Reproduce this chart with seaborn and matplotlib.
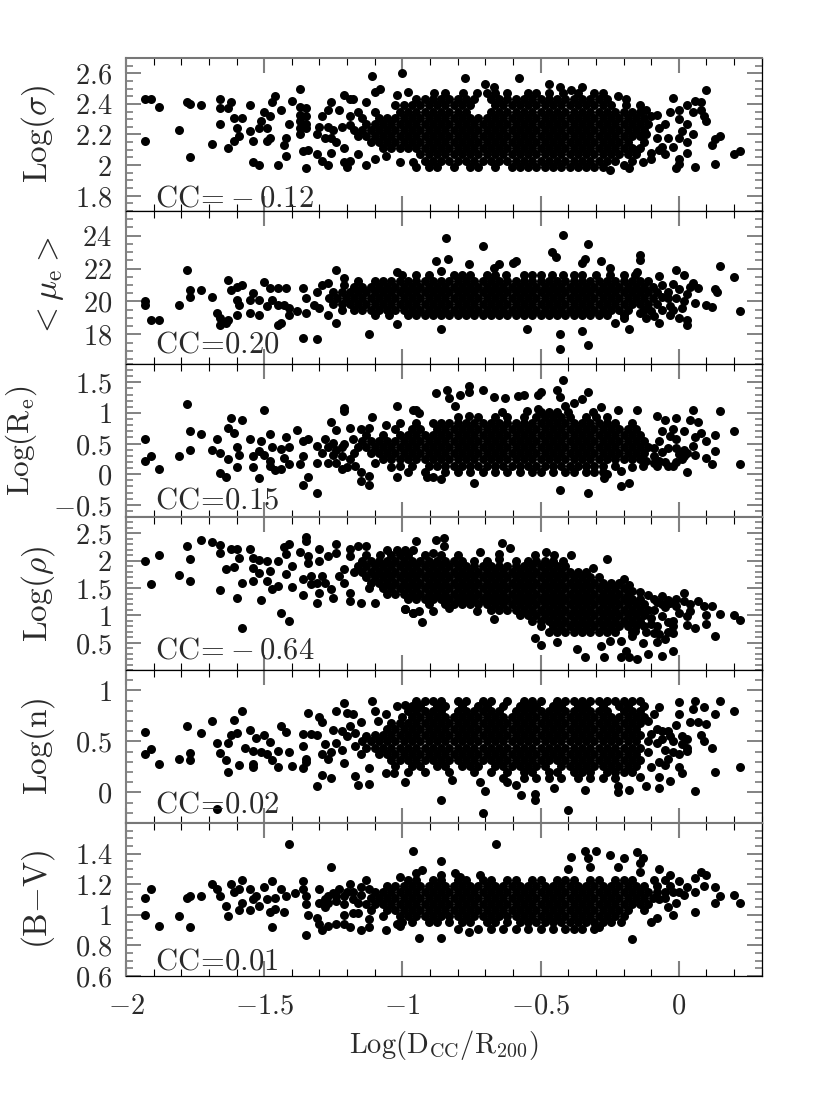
import pandas as pd
import seaborn as sns
from matplotlib import pyplot as plt
from matplotlib.ticker import MultipleLocator

# Values: single points as (x, y), crowded parts as y: [x, ...]
sigma_pts = [(-1.93,2.43),(-1.91,2.43),(-1.88,2.38),(-1.93,2.16),(-1.81,2.23),(-1.78,2.41),(-1.77,2.40),(-1.73,2.39),(-1.77,2.05),(-1.69,2.14),
 (-1.66,2.43),(-1.66,2.37),(-1.62,2.41),(-1.63,2.37),(-1.66,2.27),(-1.63,2.11),(-1.61,2.16),(-1.59,2.19),(-1.60,2.24),(-1.61,2.31),(-1.58,2.31),
 (-1.55,2.39),(-1.54,2.02),(-1.52,2.0),(-1.54,2.16),(-1.55,2.22),(-1.52,2.24),(-1.51,2.29),(-1.50,2.35),(-1.48,2.32),(-1.44,2.36),(-1.49,2.16),
 (-1.48,2.18),(-1.49,2.24),(-1.47,2.41),(-1.46,2.45),(-1.45,2.0),(-1.42,2.06),(-1.43,2.13),(-1.42,2.18),(-1.41,2.27),(-1.40,2.42),(-1.37,2.5),
 (-1.35,1.98),(-1.36,2.09),(-1.34,2.1),(-1.37,2.38),(-1.37,2.33),(-1.37,2.29),(-1.37,2.24),(-1.37,2.2),(-1.35,2.37),(-1.35,2.32),(-1.35,2.27),(-1.35,2.24),
 (-1.31,2.07),(-1.29,2.03),(-1.26,2.08),(-1.27,2.0),(-1.31,2.2),(-1.30,2.25),(-1.29,2.32),(-1.27,2.36),(-1.26,2.41),(-1.28,2.18),(-1.26,2.18),(-1.24,2.15),
 (-1.21,2.11),(-1.27,2.25),(-1.25,2.23),(-1.22,2.25),(-1.23,2.36),(-1.19,2.32),(-1.19,2.26),(-1.21,2.46),(-1.19,2.43),(-1.18,2.43),(-1.21,2.02),(-1.2,1.99),
 (-1.19,2.03),(-1.16,2.07),(-1.13,2),(-1.1,2.04),(-1.13,2.41),(-1.11,2.58),(-1.1,2.48),(-1.08,2.5),(-1.0,2.6),(-1.02,2.46),(-.98,2.48),(-1.06,2.06),
 (-1.01,2.02),(-.96,2.02),(-.95,1.99),(-.774,2.57),(-.578,2.57),(-.47,2.53),(-.35,2.51),(-.70,2.53),(-.67,2.51),(-.62,2.47),(-.43,2.51),(-.39,2.49),
 (-.22,2.45),(-.19,2.43),(-.02,2.44),(.10,2.49),(.06,2.42),(.08,2.41),(.03,2.39),(0,2.36),(-.03,2.35),(.05,2.35),(.08,2.36),(.10,2.29),(.09,2.32),(0,2.3),
 (.03,2.27),(-.07,2.24),(-.05,2.27),(-.08,2.33),(-.10,2.32),(.05,2.2),(.15,2.19),(.13,2.17),(.12,2.13),(.22,2.09),(.2,2.07),(.13,2.01),(.06,1.99),(0,2.04),
 (-.01,1.98),(0,2.01),(.03,2.15),(.03,2.08),(0,2.18),(-.04,2.18),(-.08,2.18),(-.06,2.12),(-.1,2.04),(-.05,2.07),(-.14,2.39),(-.12,2.2),(-.15,2.1),(-.18,1.98),(-.25,1.97),
 (-.12,2.36),(-.07,2.1),(-.02,2.12),(.01,2.22),(-.1,2.08),(-.13,2.02),(-.17,2.03),(-.2,2.0)]
sigma_rows = {
 1.99: [-.905,-.875,-.815,-.755,-.725,-.665,-.605,-.575,-.545,-.515,-.485,-.455,-.425,-.395,-.365,-.335,-.305,-.275],
 2.03: [-.92,-.89,-.86,-.83,-.8,-.77,-.74,-.71,-.68,-.65,-.62,-.59,-.56,-.53,-.5,-.47,-.44,-.41,-.38,-.35,-.32,-.29,-.26,-.23],
 2.07: [-.935,-.905,-.875,-.845,-.815,-.785,-.755,-.725,-.695,-.665,-.635,-.605,-.575,-.545,-.515,-.485,-.455,-.425,-.395,-.365,-.335,-.305,-.275,-.245,-.215,-.185,-.155],
 2.11: [-1.07,-1.04,-1.01,-.98,-.95,-.92,-.89,-.86,-.83,-.8,-.77,-.74,-.71,-.68,-.65,-.62,-.59,-.56,-.53,-.5,-.47,-.44,-.41,-.38,-.35,-.32,-.29,-.26,-.23,-.2,-.17,-.14],
 2.15: [-1.115,-1.085,-1.055,-1.025,-.995,-.965,-.935,-.905,-.875,-.845,-.815,-.785,-.755,-.725,-.695,-.665,-.635,-.605,-.575,-.545,-.515,-.485,-.455,-.425,-.395,-.365,-.335,-.305,-.275,-.245,-.215,-.185,-.125],
 2.19: [-1.16,-1.13,-1.1,-1.07,-1.04,-1.01,-.98,-.95,-.92,-.89,-.86,-.83,-.8,-.77,-.74,-.71,-.68,-.65,-.62,-.59,-.56,-.53,-.5,-.47,-.44,-.41,-.38,-.35,-.32,-.29,-.26,-.23,-.2,-.17,-.14],
 2.23: [-1.175,-1.145,-1.115,-1.085,-1.055,-1.025,-.995,-.965,-.935,-.905,-.875,-.845,-.815,-.785,-.755,-.725,-.695,-.665,-.635,-.605,-.575,-.545,-.515,-.485,-.455,-.425,-.395,-.365,-.335,-.305,-.275,-.245,-.215,-.185,-.155,-.125],
 2.27: [-1.13,-1.1,-1.07,-1.04,-1.01,-.98,-.95,-.92,-.89,-.86,-.83,-.8,-.77,-.74,-.71,-.68,-.65,-.62,-.59,-.56,-.53,-.5,-.47,-.44,-.41,-.38,-.35,-.32,-.29,-.26,-.23,-.2,-.17,-.14,-.11],
 2.31: [-1.145,-1.085,-1.055,-1.025,-.995,-.965,-.935,-.905,-.875,-.845,-.815,-.785,-.755,-.725,-.695,-.665,-.635,-.605,-.575,-.545,-.515,-.485,-.455,-.425,-.395,-.365,-.335,-.305,-.275,-.245,-.215,-.185,-.155,-.125],
 2.35: [-1.16,-1.1,-1.01,-.98,-.95,-.92,-.89,-.86,-.83,-.8,-.77,-.68,-.65,-.62,-.59,-.56,-.53,-.5,-.47,-.44,-.41,-.38,-.35,-.32,-.29,-.26,-.23,-.2,-.17,-.14],
 2.39: [-1.025,-.995,-.965,-.935,-.905,-.875,-.845,-.815,-.785,-.755,-.665,-.635,-.605,-.575,-.545,-.515,-.485,-.455,-.425,-.395,-.365,-.335,-.305,-.275,-.245,-.19],
 2.43: [-.95,-.92,-.89,-.86,-.83,-.8,-.77,-.74,-.68,-.65,-.62,-.59,-.56,-.53,-.5,-.47,-.44,-.41,-.38,-.35,-.32,-.29,-.26],
 2.47: [-.885,-.845,-.78,-.73,-.695,-.665,-.545,-.515,-.47,-.42,-.365,-.305,-.275],
}

mu_pts = [(-1.93,20),(-1.93,19.8),(-1.91,18.85),(-1.88,18.9),(-1.81,19.8),(-1.78,21.9),(-1.77,20.7),(-1.77,20.3),(-1.73,20.7),(-1.69,20.3),(-1.67,19.3),
 (-1.66,19),(-1.66,18.55),(-1.63,18.9),(-1.64,18.7),(-1.63,21.3),(-1.6,20.9),(-1.58,21),(-1.62,20.7),(-1.6,20.1),(-1.59,19.8),(-1.6,19.2),(-1.54,20.5),
 (-1.55,20.1),(-1.52,20.1),(-1.55,19.3),(-1.52,19.2),(-1.5,21.2),(-1.49,19.7),(-1.47,20.1),(-1.48,20.8),(-1.45,20.8),(-1.42,20.8),(-1.45,19.8),(-1.43,19.8),
 (-1.41,19.6),(-1.41,19.2),(-1.45,18.6),(-1.44,18.7),(-1.36,20.8),(-1.38,19.4),(-1.35,19.3),(-1.35,20.2),(-1.36,17.8),(-1.31,17.75),(-1.31,20.6),(-1.29,21),
 (-1.27,21.15),(-1.32,19.8),(-1.3,19.6),(-1.27,19.2),(-1.24,18.7),(-1.24,21.9),(-1.21,21.4),(-1.21,21),(-1.12,18.05),(-1.02,18.65),(-1.02,21.8),
 (-.844,23.85),(-.71,23.35),(-.42,24.05),(-.33,23.5),(-.834,22.6),(-.88,22.45),(-.86,21.85),(-.46,23),(-.445,22.7),(-.76,22.25),(-.59,22.45),(-.6,22.35),
 (-.65,22.3),(-.67,22.05),(-.34,22.6),(-.35,22.35),(-.28,22.45),(-.25,22.05),(-.14,22.8),(-.14,22.5),(-.15,21.8),(-.01,21.9),(.02,21.6),(.15,22.15),(.2,21.5),
 (.13,20.75),(.14,20.55),(.22,19.45),(.12,19.65),(.1,19.8),(.06,19.9),(.07,20.8),(.05,21.15),(.03,20.45),(-.02,21.05),(0,20.75),(-.07,21.55),(.03,18.6),(.03,18.9),
 (0,19),(-.03,19.2),(-.07,18.7),(-.18,18.3),(-.23,18.7),(-.2,19),(-.43,18.05),(-.35,18.2),(-.43,17.1),(-.33,17.35),(-.55,18.3),(-.86,18.3),
 (-.04,20.6),(-.06,21),(-.03,19.7),(-.06,19.5),(.01,19.6),(.02,20),(-.01,20.2),(.04,20.9),(-.09,19.1),(-.12,19),(-.04,20.2),(-.02,19.5),(-.06,20.3),(-.1,19.4),(-.14,19.3)]
mu_rows = {
 19.15: [-1.1,-1.05,-.98,-.95,-.92,-.89,-.86,-.83,-.8,-.77,-.74,-.71,-.68,-.65,-.62,-.59,-.56,-.53,-.5,-.47,-.44,-.41,-.38,-.35,-.32,-.29,-.26,-.2],
 19.5: [-1.22,-1.175,-1.145,-1.115,-1.085,-1.055,-1.025,-.995,-.965,-.935,-.905,-.875,-.845,-.815,-.785,-.755,-.725,-.695,-.665,-.635,-.605,-.575,-.545,-.515,-.485,-.455,-.425,-.395,-.365,-.335,-.305,-.275,-.245,-.215,-.185,-.125],
 19.85: [-1.25,-1.22,-1.19,-1.16,-1.13,-1.1,-1.07,-1.04,-1.01,-.98,-.95,-.92,-.89,-.86,-.83,-.8,-.77,-.74,-.71,-.68,-.65,-.62,-.59,-.56,-.53,-.5,-.47,-.44,-.41,-.38,-.35,-.32,-.29,-.26,-.23,-.2,-.17,-.14,-.11,-.08],
 20.2: [-1.265,-1.235,-1.205,-1.175,-1.145,-1.115,-1.085,-1.055,-1.025,-.995,-.965,-.935,-.905,-.875,-.845,-.815,-.785,-.755,-.725,-.695,-.665,-.635,-.605,-.575,-.545,-.515,-.485,-.455,-.425,-.395,-.365,-.335,-.305,-.275,-.245,-.215,-.185,-.155,-.125,-.095],
 20.55: [-1.25,-1.22,-1.19,-1.16,-1.13,-1.1,-1.07,-1.04,-1.01,-.98,-.95,-.92,-.89,-.86,-.83,-.8,-.77,-.74,-.71,-.68,-.65,-.62,-.59,-.56,-.53,-.5,-.47,-.44,-.41,-.38,-.35,-.32,-.29,-.26,-.23,-.2,-.17,-.14,-.11,-.08],
 20.9: [-1.175,-1.145,-1.115,-1.085,-1.055,-1.025,-.995,-.965,-.935,-.905,-.875,-.845,-.815,-.785,-.755,-.725,-.695,-.665,-.635,-.605,-.575,-.545,-.515,-.485,-.455,-.425,-.395,-.365,-.335,-.305,-.275,-.245,-.215,-.185,-.155,-.125,-.095],
 21.25: [-1.16,-1.1,-1.07,-1.04,-1.01,-.98,-.95,-.92,-.89,-.86,-.83,-.8,-.77,-.74,-.71,-.68,-.65,-.62,-.59,-.56,-.53,-.5,-.47,-.44,-.41,-.38,-.35,-.32,-.29,-.26,-.23,-.2,-.17,-.14,-.11],
 21.6: [-1.0,-.95,-.905,-.815,-.785,-.755,-.695,-.665,-.625,-.56,-.53,-.5,-.46,-.42,-.38,-.35,-.3,-.25,-.2,-.16],
}

re_pts = [(-1.93,.58),(-1.93,.22),(-1.91,.3),(-1.88,.09),(-1.81,.3),(-1.78,1.15),(-1.77,.71),(-1.73,.66),(-1.77,.39),(-1.69,.39),(-1.66,.34),(-1.67,.58),(-1.66,.02),
 (-1.64,-.04),(-1.62,.92),(-1.58,.89),(-1.63,.75),(-1.61,.68),(-1.6,.45),(-1.59,.32),(-1.63,.24),(-1.6,.12),(-1.55,.58),(-1.51,.55),(-1.5,1.05),(-1.48,.66),
 (-1.52,-.06),(-1.54,.3),(-1.54,.12),(-1.52,.38),(-1.5,.32),(-1.48,.22),(-1.48,.14),(-1.46,.07),(-1.44,.09),(-1.41,.16),(-1.47,.45),(-1.44,.41),(-1.43,.27),
 (-1.42,.61),(-1.41,.45),(-1.38,.72),(-1.36,.54),(-1.34,.57),(-1.36,.3),(-1.37,.16),(-1.34,-.04),(-1.36,-.18),(-1.31,-.31),(-1.31,.46),(-1.31,.19),(-1.28,.57),
 (-1.29,.35),(-1.27,.19),(-1.25,.51),(-1.22,.08),(-1.25,.32),(-1.26,.86),(-1.24,.72),(-1.19,.76),(-1.21,1.08),(-1.21,1.04),(-1.11,.93),(-1.06,.81),(-1.15,.73),
 (-1.12,.76),(-1.02,1.11),(-.95,1.05),(-1.15,-.11),(-1.12,-.18),(-1.15,.03),(-1.12,-.03),(-1.02,-.04),(-1.04,.11),(-1.1,.19),
 (-.42,1.54),(-.84,1.38),(-.88,1.32),(-.83,1.24),(-.81,1.11),(-.79,1.3),(-.76,1.44),(-.76,1.34),(-.71,1.38),(-.67,1.26),(-.63,1.24),(-.58,1.27),(-.56,1.29),
 (-.51,1.3),(-.5,1.35),(-.44,1.38),(-.43,1.26),(-.33,1.35),(-.41,1.11),(-.38,1.16),(-.35,1.22),(-.96,1.05),(-.94,1),(-.76,.95),(-.55,1.03),(-.51,1.06),
 (-.22,1.05),(-.15,1.05),(-.28,1.1),(-.08,.95),(-.05,.89),(-.01,.92),(.05,1.05),(.15,1.04),(.04,.89),(.07,.85),(.2,.7),(.13,.64),(.08,.68),(.06,.6),(.1,.54),
 (.13,.38),(.1,.26),(.12,.16),(.22,.16),(.06,.31),(.05,.46),(.03,.04),(-.02,.73),(-.01,.57),(.02,.7),(-.08,.14),(-.02,.14),(-.04,.43),(-.09,.3),(-.17,.12),(-.21,.05),
 (-.26,0),(-.27,-.06),(-.21,-.19),(-.18,-.15),(-.33,-.31),(-.43,-.26),(-.74,-.15),(-.86,-.08),(-.89,-.04),(-.91,-.05),(-.05,.2),(.01,.25),(.02,.4),(-.06,.7),(-.07,.55),(0,.33),
 (-.04,.14),(-.07,.22),(-.01,.2),(.02,.3),(-.06,.36),(-.09,.42),(-.09,.18),(-.12,.22),(-.01,.42),(.03,.34),(-.03,.62),
 (-1.27,.45),(-1.24,.4),(-1.22,.3),(-1.21,.5),(-1.19,.25),(-1.18,.58),(-1.24,.18),(-1.2,.12),(-1.17,.14)]
re_rows = {
 .04: [-.98,-.92,-.845,-.8,-.755,-.71,-.665,-.62,-.575,-.53,-.5,-.455,-.41,-.38,-.335,-.305,-.275],
 .14: [-1.01,-.965,-.905,-.875,-.845,-.815,-.785,-.755,-.725,-.695,-.665,-.635,-.605,-.575,-.545,-.515,-.485,-.455,-.425,-.395,-.365,-.335,-.305,-.275,-.23,-.13],
 .24: [-1.07,-1.04,-1.01,-.98,-.95,-.92,-.89,-.86,-.83,-.8,-.77,-.74,-.71,-.68,-.65,-.62,-.59,-.56,-.53,-.5,-.47,-.44,-.41,-.38,-.35,-.32,-.29,-.26,-.23,-.2,-.17,-.14],
 .34: [-1.175,-1.115,-1.085,-1.055,-1.025,-.995,-.965,-.935,-.905,-.875,-.845,-.815,-.785,-.755,-.725,-.695,-.665,-.635,-.605,-.575,-.545,-.515,-.485,-.455,-.425,-.395,-.365,-.335,-.305,-.275,-.245,-.215,-.185,-.155,-.125],
 .44: [-1.22,-1.16,-1.13,-1.1,-1.07,-1.04,-1.01,-.98,-.95,-.92,-.89,-.86,-.83,-.8,-.77,-.74,-.71,-.68,-.65,-.62,-.59,-.56,-.53,-.5,-.47,-.44,-.41,-.38,-.35,-.32,-.29,-.26,-.23,-.2,-.17,-.14,-.11],
 .54: [-1.145,-1.115,-1.085,-1.055,-1.025,-.995,-.965,-.935,-.905,-.875,-.845,-.815,-.785,-.755,-.725,-.695,-.665,-.635,-.605,-.575,-.545,-.515,-.485,-.455,-.425,-.395,-.365,-.335,-.305,-.275,-.245,-.215,-.185,-.155,-.125],
 .64: [-1.13,-1.07,-1.01,-.98,-.95,-.92,-.89,-.86,-.83,-.8,-.77,-.74,-.71,-.68,-.65,-.62,-.59,-.56,-.53,-.5,-.47,-.44,-.41,-.38,-.35,-.32,-.29,-.26,-.23,-.2,-.17,-.14],
 .74: [-1.025,-.965,-.935,-.875,-.845,-.815,-.785,-.755,-.725,-.695,-.665,-.635,-.605,-.575,-.545,-.515,-.485,-.455,-.425,-.395,-.365,-.335,-.305,-.275,-.245,-.215,-.185,-.155],
 .84: [-1.01,-.95,-.89,-.86,-.83,-.8,-.77,-.74,-.71,-.68,-.65,-.62,-.59,-.56,-.53,-.5,-.47,-.44,-.41,-.38,-.35,-.32,-.29,-.26,-.23,-.17],
 .94: [-.8,-.725,-.665,-.62,-.56,-.515,-.485,-.455,-.425,-.395,-.335,-.3,-.26],
 1.02: [-.64,-.5,-.47,-.44,-.4,-.31],
}

rho_pts = [(-1.93,2),(-1.91,1.58),(-1.88,2.1),(-1.81,1.74),(-1.78,2.27),(-1.77,2.04),(-1.77,1.62),(-1.73,2.38),(-1.69,2.34),(-1.66,2.28),(-1.66,2.15),(-1.66,1.46),
 (-1.64,1.85),(-1.61,1.89),(-1.62,2.21),(-1.6,2.21),(-1.59,2.05),(-1.6,1.31),(-1.58,1.59),(-1.58,.77),(-1.55,2.22),(-1.54,2.05),(-1.52,2.02),(-1.49,2),(-1.45,2),
 (-1.54,1.87),(-1.52,1.78),(-1.54,1.63),(-1.51,1.28),(-1.49,1.63),(-1.47,1.48),(-1.45,1.54),(-1.4,1.52),(-1.44,1.04),(-1.41,.89),(-1.48,1.81),(-1.42,1.75),(-1.4,1.9),
 (-1.43,2.26),(-1.41,2.3),(-1.42,2.12),(-1.35,2.44),(-1.35,2.36),(-1.37,2.16),(-1.34,2.09),(-1.34,1.96),(-1.36,1.66),(-1.33,1.72),(-1.33,1.57),(-1.36,1.38),(-1.31,1.23),
 (-1.3,1.41),(-1.31,1.6),(-1.29,1.72),(-1.28,1.6),(-1.26,1.48),(-1.25,1.31),(-1.3,2.21),(-1.3,2),(-1.27,2.09),(-1.24,2.3),(-1.24,2.15),(-1.21,1.84),(-1.23,1.72),
 (-1.21,1.6),(-1.19,1.41),(-1.19,1.26),(-1.15,1.23),(-1.19,2.21),(-1.19,2.09),(-1.16,2.27),(-1.13,2.27),(-1.1,1.22),(-.99,1.11),(-.96,1.05),(-1.12,1.5),
 (-.64,2.33),(-.61,2.23),(-.65,2.13),(-.65,2.04),(-.95,2.36),(-.88,2.37),(-.85,2.42),(-.85,2.27),(-.89,2.15),(-.72,2.16),(-.52,2.1),(-.48,2.16),(-.45,2.1),(-.39,2.11),
 (-.26,2.04),(-.31,1.87),(-.2,1.66),(-.17,1.45),(-.11,1.38),(-.06,1.35),(.02,1.41),(-.06,.99),(-.1,.96),(-.03,1.23),(.02,1.26),(.07,1.26),(.09,1.17),(.12,1.17),
 (.15,1.02),(.1,1.01),(.2,1),(.22,.91),(.1,.84),(.13,.63),(.06,.77),(.03,.82),(-.02,.8),(-.04,.87),(-.08,.8),(.03,.99),(0,1.05),(.04,1.08),(-.02,.34),(-.06,.26),
 (-.15,.2),(-.19,.35),(-.21,.23),(-.18,.23),(-.11,.29),(-.27,.24),(-.34,.23),(-.37,.38),(-.44,.51),(-.5,.46),(-.52,.59),(-.28,.44),(-.25,.53),(-.21,.53),(-.17,.62),
 (-.13,.5),(-.08,.51),(-.05,.56),(-.02,.68),(-.99,1.11),(-.96,1.05),(-.94,1.08),(-.93,.88),(-.73,1.08),(-.67,.93),(-.89,1.08),(-.83,1.14),(-.08,1.25),(-.05,1.15),(-.09,1.1),
 (-.12,.7),(-.16,.72),(-.09,.68),(-.04,.7),(-.01,1.18),(-.09,1.3),(-.04,1.28),(-.01,1.3),(.04,1.2),(-.06,1.2),(-.02,.9),(-.18,1.56),(-.14,1.42),(-.1,.85),(-.07,.66)]
rho_rows = {
 .7: [-.47,-.44,-.41,-.38,-.35,-.32,-.29,-.26,-.23,-.17],
 .8: [-.5,-.455,-.425,-.395,-.365,-.335,-.305,-.275,-.245,-.215,-.185,-.155,-.125],
 .9: [-.53,-.5,-.47,-.44,-.41,-.38,-.35,-.32,-.29,-.26,-.23,-.2,-.17,-.14],
 1.0: [-.575,-.545,-.515,-.485,-.455,-.425,-.395,-.365,-.335,-.305,-.275,-.245,-.215,-.185,-.155,-.125],
 1.1: [-.68,-.65,-.62,-.59,-.56,-.53,-.5,-.47,-.44,-.41,-.38,-.35,-.32,-.29,-.26,-.23,-.2,-.17,-.14,-.11],
 1.2: [-.905,-.845,-.815,-.785,-.755,-.725,-.695,-.665,-.635,-.605,-.575,-.545,-.515,-.485,-.455,-.425,-.395,-.365,-.335,-.305,-.275,-.245,-.215,-.185,-.155,-.125],
 1.3: [-.98,-.95,-.92,-.89,-.86,-.83,-.8,-.77,-.74,-.71,-.68,-.65,-.62,-.59,-.56,-.53,-.5,-.47,-.44,-.41,-.38,-.35,-.32,-.29,-.26,-.23,-.2,-.17,-.14],
 1.4: [-1.055,-1.025,-.995,-.965,-.935,-.905,-.875,-.845,-.815,-.785,-.755,-.725,-.695,-.665,-.635,-.605,-.575,-.545,-.515,-.485,-.455,-.425,-.395,-.365,-.335,-.305,-.275,-.245,-.215,-.185],
 1.5: [-1.07,-1.04,-1.01,-.98,-.95,-.92,-.89,-.86,-.83,-.8,-.77,-.74,-.71,-.68,-.65,-.62,-.59,-.56,-.53,-.5,-.47,-.44,-.41,-.38,-.35,-.32,-.29,-.26,-.23,-.2],
 1.6: [-1.115,-1.085,-1.055,-1.025,-.995,-.965,-.935,-.905,-.875,-.845,-.815,-.785,-.755,-.725,-.695,-.665,-.635,-.605,-.575,-.545,-.515,-.485,-.455,-.425,-.395,-.365,-.335,-.305,-.275,-.245,-.215],
 1.7: [-1.13,-1.1,-1.07,-1.04,-1.01,-.98,-.95,-.92,-.89,-.86,-.83,-.8,-.77,-.74,-.71,-.68,-.65,-.62,-.59,-.56,-.53,-.5,-.47,-.44,-.41,-.38,-.35,-.32,-.29],
 1.8: [-1.175,-1.145,-1.115,-1.085,-1.055,-1.025,-.995,-.965,-.935,-.905,-.875,-.845,-.815,-.785,-.755,-.725,-.695,-.665,-.635,-.605,-.575,-.545,-.515,-.485,-.455,-.425,-.395,-.365,-.335],
 1.9: [-1.16,-1.13,-1.1,-1.07,-1.04,-1.01,-.98,-.95,-.92,-.89,-.86,-.83,-.8,-.77,-.74,-.71,-.68,-.65,-.62,-.59,-.56,-.53,-.5,-.47,-.44,-.41],
 2.0: [-1.145,-1.115,-1.085,-1.055,-1.025,-.995,-.965,-.935,-.905,-.875,-.845,-.815,-.785,-.74,-.695,-.59,-.545,-.515,-.485,-.455,-.42],
 2.1: [-1.13,-1.08,-1.04,-1.01,-.98,-.92,-.86,-.8],
 2.2: [-1.055,-1.02,-.99,-.96],
}

n_pts = [(-1.93,.59),(-1.93,.38),(-1.91,.43),(-1.88,.28),(-1.81,.33),(-1.77,.39),(-1.77,.32),(-1.78,.65),(-1.73,.58),(-1.69,.7),(-1.67,.48),(-1.66,.39),(-1.64,.32),
 (-1.63,.2),(-1.63,.48),(-1.61,.71),(-1.58,.8),(-1.62,.56),(-1.6,.58),(-1.59,.27),(-1.54,.28),(-1.54,.25),(-1.57,.44),(-1.55,.61),(-1.53,.53),(-1.5,.56),(-1.48,.49),
 (-1.54,.41),(-1.51,.4),(-1.49,.38),(-1.47,.32),(-1.45,.41),(-1.45,.25),(-1.4,.26),(-1.41,.4),(-1.44,.65),(-1.42,.59),(-1.34,.78),(-1.3,.74),(-1.29,.69),(-1.36,.57),
 (-1.33,.57),(-1.36,.45),(-1.35,.33),(-1.36,.24),(-1.35,.3),(-1.31,.06),(-1.29,.17),(-1.26,.14),(-1.21,.88),(-1.24,.8),(-1.2,.78),(-1.18,.77),(-1.11,.9),(-1.1,.8),
 (-1.21,.29),(-1.17,.16),(-1.16,.07),(-1.12,.08),(-1.12,.24),(-1.67,-.16),(-1.06,.19),(-.99,.1),(-1.03,.19),(-1.25,.61),(-1.19,.65),(-1.15,.69),(-1.09,.7),(-1.06,.77),
 (-1.02,.85),(-.99,.86),(-.95,.9),(-1.31,.56),(-1.28,.47),(-1.26,.4),(-1.29,.38),(-1.27,.33),(-1.24,.48),(-1.22,.42),(-1.2,.55),(-1.22,.6),(-1.17,.45),(-1.15,.38),(-1.17,.58),(-1.13,.55),
 (.15,.9),(.2,.8),(.13,.77),(.06,.9),(.05,.82),(.09,.84),(0,.89),(0,.77),(-.07,.84),(-.09,.77),(.04,.69),(.07,.69),(.1,.67),(-.01,.66),(.08,.56),(.09,.5),(.12,.44),(.22,.25),
 (.13,.2),(.06,.01),(-.07,.04),(-.07,.15),(-.03,.11),(.01,.19),(0,.25),(-.05,.27),(-.07,.3),(.03,.44),(.03,.41),(0,.38),(-.04,.33),(-.06,.6),(-.1,.57),(-.11,.7),(-.12,.06),
 (-.14,.15),(-.22,.06),(-.22,0),(-.18,.02),(-.4,-.17),(-.71,-.2),(-.86,-.07),(-.7,.01),(-.57,-.03),(-.52,-.02),(-.52,-.07),(-.45,.04),(-.34,.02),(-.59,.07),(-.62,.1),
 (-.82,.12),(-.72,.1),(-.02,.5),(.01,.55),(.03,.52),(-.04,.6),(-.08,.48),(-.05,.42),(-.1,.25),(-.08,.62),(-.03,.55),(.01,.47),(-.02,.4),(-.11,.4),(-.11,.5),(-.06,.52)]
n_rows = {
 .14: [-.635,-.56,-.515,-.47,-.425,-.365,-.32,-.275,-.23],
 .2: [-.98,-.92,-.83,-.74,-.68,-.62,-.56,-.53,-.47,-.44,-.38,-.35,-.32,-.26,-.23,-.2,-.17],
 .26: [-1.025,-.965,-.935,-.875,-.845,-.785,-.755,-.725,-.665,-.635,-.605,-.575,-.545,-.515,-.485,-.425,-.395,-.365,-.335,-.305,-.275,-.245,-.215,-.185,-.155],
 .32: [-1.04,-1.01,-.98,-.95,-.92,-.89,-.86,-.83,-.8,-.77,-.74,-.71,-.68,-.65,-.62,-.59,-.56,-.53,-.5,-.47,-.44,-.41,-.38,-.35,-.32,-.29,-.26,-.23,-.2,-.17,-.14],
 .38: [-1.085,-1.055,-1.025,-.995,-.965,-.935,-.905,-.875,-.845,-.815,-.785,-.755,-.725,-.695,-.665,-.635,-.605,-.575,-.545,-.515,-.485,-.455,-.425,-.395,-.365,-.335,-.305,-.275,-.245,-.215,-.185,-.155],
 .44: [-1.13,-1.1,-1.07,-1.04,-1.01,-.98,-.95,-.92,-.89,-.86,-.83,-.8,-.77,-.74,-.71,-.68,-.65,-.62,-.59,-.56,-.53,-.5,-.47,-.44,-.41,-.38,-.35,-.32,-.29,-.26,-.23,-.2,-.17,-.14],
 .5: [-1.145,-1.115,-1.085,-1.055,-1.025,-.995,-.965,-.935,-.905,-.875,-.845,-.815,-.785,-.755,-.725,-.695,-.665,-.635,-.605,-.575,-.545,-.515,-.485,-.455,-.425,-.395,-.365,-.335,-.305,-.275,-.245,-.215,-.185,-.155],
 .56: [-1.1,-1.07,-1.04,-1.01,-.98,-.95,-.92,-.89,-.86,-.83,-.8,-.77,-.74,-.71,-.68,-.65,-.62,-.59,-.56,-.53,-.5,-.47,-.44,-.41,-.38,-.35,-.32,-.29,-.26,-.23,-.2,-.17,-.14],
 .62: [-1.055,-1.025,-.995,-.965,-.935,-.905,-.875,-.845,-.815,-.785,-.755,-.725,-.695,-.665,-.635,-.605,-.575,-.545,-.515,-.485,-.455,-.425,-.395,-.365,-.335,-.305,-.275,-.245,-.215,-.185,-.155],
 .68: [-1.04,-1.01,-.98,-.95,-.92,-.89,-.86,-.83,-.8,-.77,-.74,-.71,-.68,-.65,-.62,-.59,-.56,-.53,-.5,-.47,-.44,-.41,-.38,-.35,-.32,-.29,-.26,-.23,-.2,-.17,-.14],
 .74: [-1.0,-.965,-.935,-.905,-.875,-.845,-.815,-.785,-.755,-.725,-.695,-.665,-.635,-.605,-.575,-.545,-.515,-.485,-.455,-.425,-.395,-.365,-.335,-.305,-.275,-.245,-.215,-.185,-.155,-.125],
 .8: [-.98,-.95,-.92,-.89,-.86,-.8,-.77,-.74,-.71,-.68,-.65,-.59,-.56,-.53,-.5,-.47,-.44,-.41,-.38,-.35,-.32,-.29,-.26,-.2,-.17,-.14],
 .85: [-.965,-.935,-.875,-.845,-.785,-.725,-.695,-.635,-.575,-.545,-.515,-.455,-.425,-.365,-.335,-.275,-.215,-.185,-.125],
 .9: [-.92,-.89,-.86,-.8,-.77,-.71,-.68,-.62,-.56,-.53,-.5,-.44,-.41,-.38,-.35,-.32,-.29,-.26,-.23,-.2,-.17,-.14],
}

bv_pts = [(-1.93,1),(-1.93,1.11),(-1.91,1.17),(-1.88,.93),(-1.81,.99),(-1.77,.92),(-1.78,1.11),(-1.77,1.12),(-1.73,1.12),(-1.69,1.2),(-1.67,1.17),(-1.66,1.12),(-1.64,1.06),
 (-1.63,.99),(-1.62,1.2),(-1.61,1.15),(-1.59,1.17),(-1.58,1.23),(-1.58,1.08),(-1.59,1.03),(-1.55,1.03),(-1.55,1.17),(-1.53,1.12),(-1.54,1.1),(-1.5,1.18),(-1.47,1.22),(-1.49,1.1),
 (-1.52,1.06),(-1.47,.92),(-1.44,1.17),(-1.46,1.11),(-1.42,1.12),(-1.39,1.14),(-1.48,1.02),(-1.46,1.04),(-1.43,1.02),(-1.41,1.46),(-1.36,1.22),(-1.36,1.17),(-1.35,1.12),(-1.35,1.07),
 (-1.35,.87),(-1.34,1),(-1.31,.98),(-1.3,.94),(-1.3,1.17),(-1.3,1.08),(-1.28,1.05),(-1.26,1.31),(-1.29,.9),(-1.27,.93),(-1.24,.94),(-1.21,.94),(-1.27,1.12),(-1.25,1.14),(-1.23,1.17),
 (-1.19,1.2),(-1.21,1.12),(-1.18,1.15),(-1.21,1),(-1.18,1.01),(-1.16,1.01),(-1.19,.92),(-1.15,.9),(-1.12,.92),(-1.12,.97),(-1.13,1.23),(-1.06,.9),(-1.02,.94),(-1.01,.93),(-.96,1.42),
 (-.94,.85),(-1.01,1.25),(-.95,1.27),(-1.27,1.08),(-1.24,1.09),(-1.21,1.07),(-1.18,1.1),(-1.15,1.13),(-1.15,1.18),(-1.12,1.17),(-1.28,1.1),(-1.24,1.12),(-1.2,1.15),(-1.16,1.08),
 (-.66,1.46),(-.86,1.35),(-.86,1.26),(-.81,1.27),(-.79,1.25),(-.72,1.26),(-.86,.85),(-.76,.89),(-.93,1.29),(-.39,1.38),(-.34,1.42),(-.3,1.42),(-.25,1.39),(-.2,1.37),(-.15,1.41),
 (-.13,1.37),(-.14,1.34),(-.07,1.3),(-.33,1.37),(-.32,1.31),(-.4,1.3),(-.22,1.31),(-.14,1.28),(-.03,1.26),(0,1.22),(.08,1.28),(.1,1.26),(.06,1.24),(.09,1.19),(.13,1.18),(.15,1.12),
 (.13,1.08),(.06,1.15),(.2,1.13),(.22,1.08),(.06,1.02),(-.02,1),(-.08,.98),(-.1,.95),(-.17,.84),(-.29,.92),(-.21,.95),(.02,1.13),(.03,1.18),(-.01,1.08),(-.04,1.05),(-.07,1.1),(.0,1.15)]
bv_rows = {
 .91: [-.8,-.725,-.68,-.635,-.59,-.545,-.5,-.455,-.41,-.38,-.35,-.305],
 .95: [-1.0,-.965,-.905,-.875,-.83,-.785,-.755,-.695,-.665,-.62,-.575,-.545,-.515,-.485,-.455,-.425,-.395,-.365,-.335,-.305,-.275,-.245],
 .99: [-1.07,-1.01,-.98,-.95,-.92,-.89,-.86,-.83,-.8,-.77,-.74,-.71,-.68,-.65,-.62,-.59,-.56,-.53,-.5,-.47,-.44,-.41,-.38,-.35,-.32,-.29,-.26,-.23,-.2],
 1.03: [-1.115,-1.055,-1.025,-.995,-.965,-.935,-.905,-.875,-.845,-.815,-.785,-.755,-.725,-.695,-.665,-.635,-.605,-.575,-.545,-.515,-.485,-.455,-.425,-.395,-.365,-.335,-.305,-.275,-.245,-.215,-.185,-.125],
 1.07: [-1.13,-1.1,-1.07,-1.04,-1.01,-.98,-.95,-.92,-.89,-.86,-.83,-.8,-.77,-.74,-.71,-.68,-.65,-.62,-.59,-.56,-.53,-.5,-.47,-.44,-.41,-.38,-.35,-.32,-.29,-.26,-.23,-.2,-.17,-.14,-.11],
 1.11: [-1.115,-1.085,-1.055,-1.025,-.995,-.965,-.935,-.905,-.875,-.845,-.815,-.785,-.755,-.725,-.695,-.665,-.635,-.605,-.575,-.545,-.515,-.485,-.455,-.425,-.395,-.365,-.335,-.305,-.275,-.245,-.215,-.185,-.155,-.125,-.095,-.05],
 1.15: [-1.1,-1.07,-1.04,-1.01,-.98,-.95,-.92,-.89,-.86,-.83,-.8,-.77,-.74,-.71,-.68,-.65,-.62,-.59,-.56,-.53,-.5,-.47,-.44,-.41,-.38,-.35,-.32,-.29,-.26,-.23,-.2,-.17,-.14,-.11,-.08,-.05,-.02],
 1.19: [-1.055,-1.025,-.995,-.965,-.935,-.905,-.875,-.845,-.815,-.785,-.755,-.725,-.695,-.665,-.635,-.605,-.575,-.545,-.515,-.485,-.455,-.425,-.395,-.365,-.335,-.305,-.275,-.245,-.215,-.185,-.155,-.125,-.08,-.03],
 1.23: [-.98,-.95,-.89,-.86,-.8,-.77,-.71,-.68,-.62,-.59,-.53,-.5,-.44,-.41,-.38,-.32,-.29,-.23,-.2,-.17,-.09,-.05],
}


def points_frame(pts, rows):
    # singles plus the crowded rows, in one table for seaborn
    xs = [p[0] for p in pts]
    ys = [p[1] for p in pts]
    for y, row in rows.items():
        xs += row
        ys += [y] * len(row)
    return pd.DataFrame({"logd": xs, "val": ys})


panels = [
    (sigma_pts, sigma_rows, r"$\mathrm{Log}(\sigma)$", (1.7, 2.7), [1.8, 2, 2.2, 2.4, 2.6], ["1.8", "2", "2.2", "2.4", "2.6"], .05, r"$\mathrm{CC}\!=\!-0.12$", .028, 57, "#777777"),
    (mu_pts, mu_rows, r"${<}\mu_{\mathrm{e}}{>}$", (16.2, 25.5), [18, 20, 22, 24], ["18", "20", "22", "24"], .5, r"$\mathrm{CC}\!=\!0.20$", .072, 66, "black"),
    (re_pts, re_rows, r"$\mathrm{Log}(\mathrm{R_e})$", (-.7, 1.8), [-.5, 0, .5, 1, 1.5], ["-0.5", "0", "0.5", "1", "1.5"], .1, r"$\mathrm{CC}\!=\!0.15$", .058, 39, "black"),
    (rho_pts, rho_rows, r"$\mathrm{Log}(\rho)$", (0, 2.8), [.5, 1, 1.5, 2, 2.5], ["0.5", "1", "1.5", "2", "2.5"], .1, r"$\mathrm{CC}\!=\!-0.64$", .072, 57, "#777777"),
    (n_pts, n_rows, r"$\mathrm{Log(n)}$", (-.3, 1.2), [0, .5, 1], ["0", "0.5", "1"], .1, r"$\mathrm{CC}\!=\!0.02$", .071, 57, "black"),
    (bv_pts, bv_rows, r"$\mathrm{(B{-}V)}$", (.6, 1.6), [.6, .8, 1, 1.2, 1.4], ["0.6", "0.8", "1", "1.2", "1.4"], .05, r"$\mathrm{CC}\!=\!0.01$", .04, 57, "#777777"),
]

sns.set_theme(style="ticks")
plt.rcParams["mathtext.fontset"] = "cm"
plt.rcParams["font.family"] = ["DejaVu Serif"]
TXT = "#2a2a2a"

fig, axes = plt.subplots(6, 1, figsize=(8.3, 11.06), dpi=100, sharex=True)
fig.subplots_adjust(left=126 / 830, right=761.7 / 830, top=1 - 58 / 1106, bottom=1 - 976 / 1106, hspace=0)

for ax, p in zip(axes, panels):
    pts, rows, label, ylim, yt, ytl, minor, cc, cc_y, lab_x, top_col = p
    df = points_frame(pts, rows)
    sns.scatterplot(data=df, x="logd", y="val", ax=ax, color="black", s=42, linewidth=0, legend=False)

    ax.set_xlim(-2, .3)
    ax.set_ylim(*ylim)
    ax.set_yticks(yt, [f"${t}$" for t in ytl], fontsize=20.5, color=TXT)
    ax.yaxis.set_minor_locator(MultipleLocator(minor))
    ax.xaxis.set_major_locator(MultipleLocator(.5))
    ax.xaxis.set_minor_locator(MultipleLocator(.1))
    ax.tick_params(which="both", direction="in", top=True, right=True)
    ax.tick_params(axis="x", which="major", length=10.5, width=1.5, color="#808080")
    ax.tick_params(axis="x", which="minor", length=5.2, width=.8, color="black")
    ax.tick_params(axis="y", which="major", length=10.5, width=1.1, color="#606060", pad=10)
    ax.tick_params(axis="y", which="minor", length=5.2, width=1.1, color="#707070")

    ax.spines["left"].set(color="#808080", linewidth=1.5)
    ax.spines["right"].set(color="black", linewidth=.9)
    ax.spines["top"].set(color=top_col, linewidth=1.5 if top_col != "black" else .9)
    ax.spines["bottom"].set(color="black", linewidth=.9)

    ax.set_ylabel(label, fontsize=22.5 if lab_x == 39 else 24, color=TXT)
    ax.yaxis.set_label_coords((lab_x - 126) / 635.7, .5)
    ax.set_xlabel("")
    ax.text(.0456, cc_y, cc, transform=ax.transAxes, fontsize=22, color=TXT, va="baseline", ha="left")

axes[2].spines["bottom"].set(color="#777777", linewidth=1.5)
axes[4].spines["bottom"].set(color="#777777", linewidth=1.5)

axes[-1].set_xticks([-2, -1.5, -1, -.5, 0], ["$-2$", "$-1.5$", "$-1$", "$-0.5$", "$0$"], fontsize=20.5, color=TXT)
axes[-1].tick_params(axis="x", which="major", pad=12, labelbottom=True)
axes[-1].set_xlabel(r"$\mathrm{Log(D_{CC}/R_{200})}$", fontsize=20.5, color=TXT, labelpad=6)

fig.savefig("out.png", dpi=100)
